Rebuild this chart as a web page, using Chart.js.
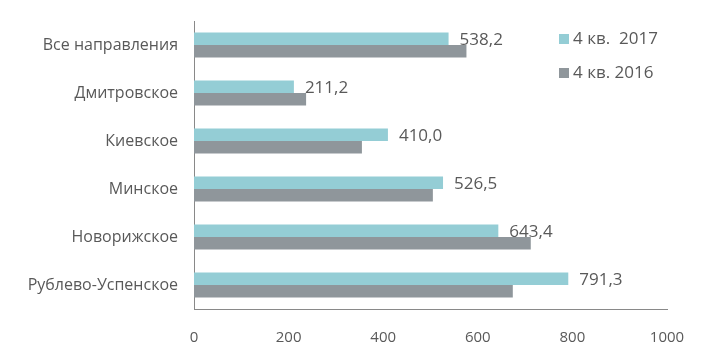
<!DOCTYPE html>
<html><head><meta charset="utf-8">
<script src="https://cdn.jsdelivr.net/npm/chart.js@4"></script>
<style>html,body{margin:0;padding:0;background:#fff}#w{width:702px;height:356px}</style>
</head><body><div id="w"><canvas id="c"></canvas></div>
<script>
const categories = ["Все направления","Дмитровское","Киевское","Минское","Новорижское","Рублево-Успенское"];
const values2017 = [538.2, 211.2, 410.0, 526.5, 643.4, 791.3];
const values2016 = [576, 237, 355, 505, 712, 674];
const seriesLabels = ["4 кв.  2017", "4 кв. 2016"];
const xTicks = [0, 200, 400, 600, 800, 1000];

const FONT = "'Open Sans', sans-serif";
const TXT = "#595959";

const labelPlugin = {
  id: 'vals',
  afterDatasetsDraw(chart) {
    const ctx = chart.ctx;
    const meta = chart.getDatasetMeta(0);
    ctx.save();
    ctx.font = "17px " + FONT;
    ctx.fillStyle = TXT;
    ctx.textAlign = 'left';
    ctx.textBaseline = 'middle';
    meta.data.forEach((el, i) => {
      const v = chart.data.datasets[0].data[i];
      ctx.fillText(v.toFixed(1).replace('.', ','), el.x + 11, el.y + 1);
    });
    ctx.restore();
  }
};

const legendPlugin = {
  id: 'lg',
  afterDraw(chart) {
    const ctx = chart.ctx;
    ctx.save();
    ctx.font = "17px " + FONT;
    ctx.textBaseline = 'middle';
    chart.data.datasets.forEach((ds, i) => {
      const y = 39 + i * 34;
      ctx.fillStyle = ds.backgroundColor;
      ctx.fillRect(559, y - 5, 10, 10);
      ctx.fillStyle = TXT;
      ctx.fillText(ds.label, 573, y);
    });
    ctx.restore();
  }
};

new Chart(document.getElementById('c'), {
  type: 'bar',
  data: {
    labels: categories,
    datasets: [
      { label: seriesLabels[0], data: values2017, backgroundColor: '#94CDD5', categoryPercentage: 0.52, barPercentage: 1.0 },
      { label: seriesLabels[1], data: values2016, backgroundColor: '#8F969B', categoryPercentage: 0.52, barPercentage: 1.0 }
    ]
  },
  options: {
    indexAxis: 'y',
    responsive: true,
    maintainAspectRatio: false,
    animation: false,
    layout: { padding: { left: 0, right: 35, top: 21, bottom: 0 } },
    plugins: { legend: { display: false }, tooltip: { enabled: false } },
    scales: {
      x: {
        min: 0, max: 1000,
        afterBuildTicks(s) { s.ticks = xTicks.map(v => ({ value: v })); },
        afterFit(s) { s.height = 47; },
        grid: { display: false },
        border: { display: true, color: '#898989', width: 1 },
        ticks: { color: TXT, font: { family: FONT, size: 15 }, padding: 12, callback: v => String(v) }
      },
      y: {
        afterFit(s) { s.width = 194; },
        grid: { display: false },
        border: { display: true, color: '#898989', width: 1 },
        ticks: { color: TXT, font: { family: FONT, size: 16 }, padding: 8 }
      }
    }
  },
  plugins: [labelPlugin, legendPlugin]
});
</script></body></html>
